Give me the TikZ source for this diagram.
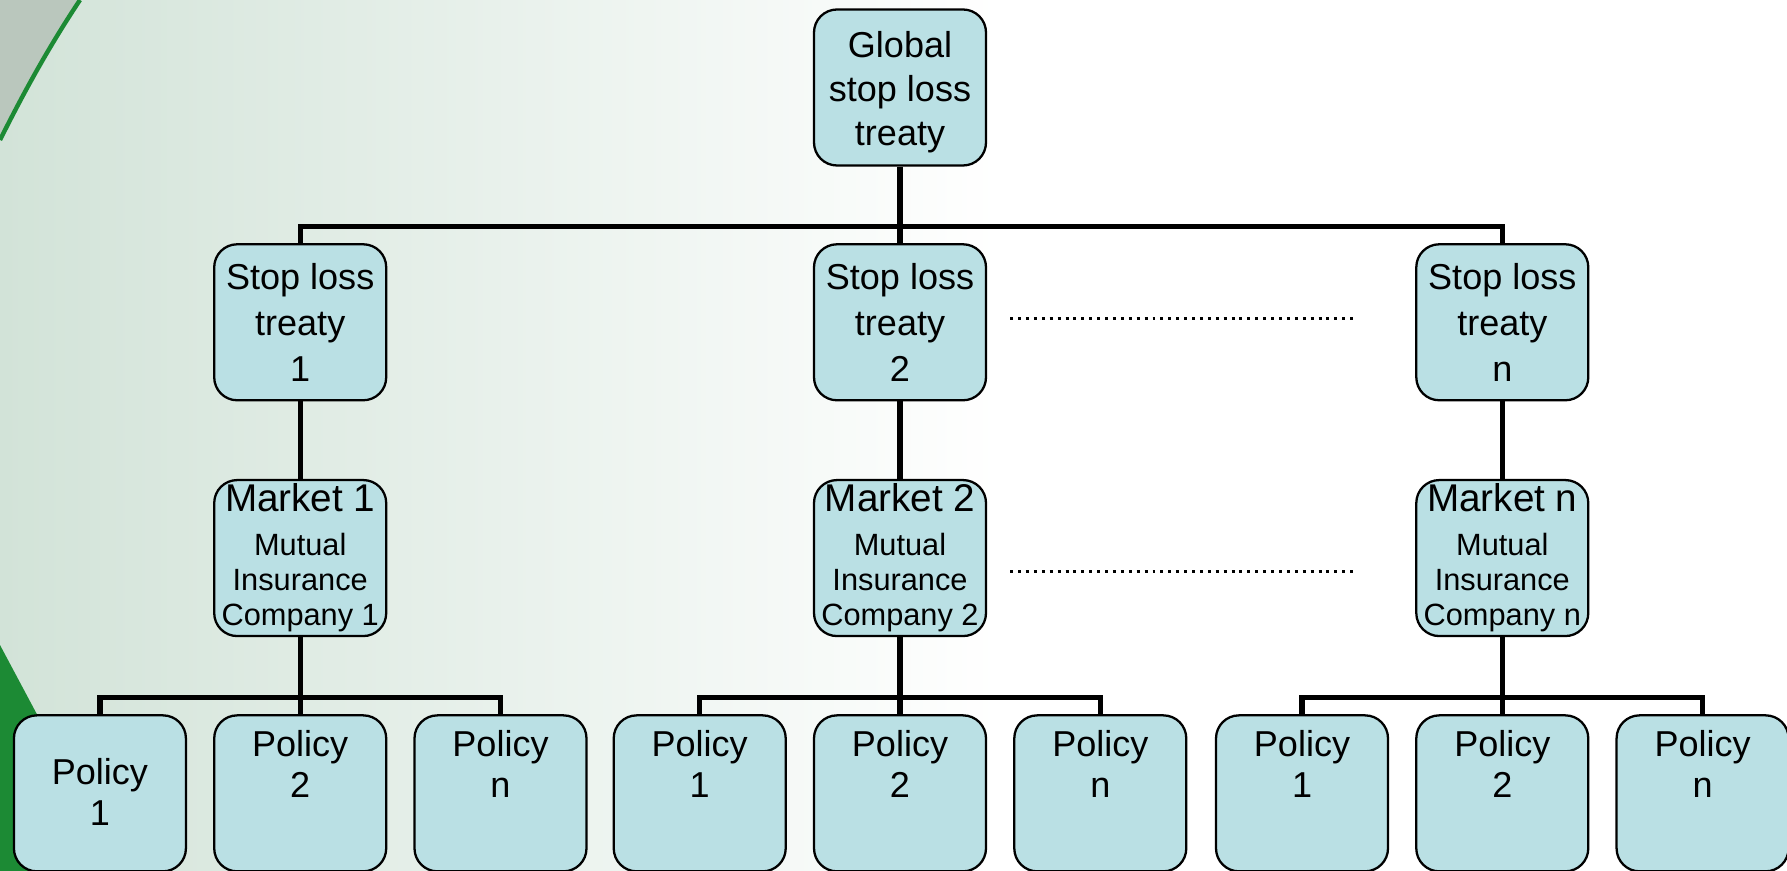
\documentclass[tikz,border=0pt]{standalone}
\usepackage{fontspec}
\setmainfont{Liberation Sans}
\usetikzlibrary{positioning}

\definecolor{boxfill}{RGB}{186,224,228}
\definecolor{bgtint}{RGB}{210,227,216}
\definecolor{swoosh}{RGB}{28,138,52}

\begin{document}
\begin{tikzpicture}[
  box/.style={draw=black,line width=1.3pt,fill=boxfill,rounded corners=0.46cm,
    minimum width=3.44cm,minimum height=3.12cm,inner sep=0pt,align=center,
    font=\fontsize{20.5}{26}\selectfont},
  mkt/.style={box,font=\fontsize{17.5}{20}\selectfont},
  poltext/.style={anchor=north,yshift=-0.32cm,inner sep=0pt,align=center,
    font=\fontsize{20.5}{23.5}\selectfont},
  poltop/.style={label={[poltext]north:{Policy\\1}}},
  polmid/.style={label={[poltext,anchor=center,yshift=-1.23cm]north:{Policy\\1}}},
  link/.style={line width=3pt},
  dots/.style={line width=1.7pt,dash pattern=on 1.7pt off 2.8pt}
]
\useasboundingbox (0,0) rectangle (35.74,-17.42);

% background
\shade[left color=bgtint,right color=white] (0,0) rectangle (20,-17.42);
\fill[swoosh!25!gray!45] (0,0) -- (1.6,0) .. controls (1.0,-0.9) and (0.5,-1.8) .. (0,-2.8) -- cycle;
\draw[swoosh,line width=2.5pt] (1.6,0) .. controls (1.0,-0.9) and (0.5,-1.8) .. (0,-2.8);
\fill[swoosh] (0,-12.9) -- (0.8,-14.4) -- (0.8,-17.42) -- (0,-17.42) -- cycle;

\node (global) [box,font=\fontsize{20.5}{25}\selectfont] at (18,-1.75)
  {\raisebox{-0.11cm}[\height][\depth]{\begin{tabular}{@{}c@{}}Global\\stop loss\\treaty\end{tabular}}};

\node (treaty2) [box,below=1.53cm of global] {Stop loss\\treaty\\2};
\node (treaty1) [box,left=8.51cm of treaty2] {Stop loss\\treaty\\1};
\node (treaty3) [box,right=8.56cm of treaty2] {Stop loss\\treaty\\n};

\coordinate[above=0.34cm of treaty2.north] (topbus);
\draw[link] (global.south) -- (treaty2.north);
\draw[link] (treaty1.north) |- (topbus) -| (treaty3.north);

\foreach \i/\k/\first in {1/1/polmid,2/2/poltop,3/n/poltop} {
  \node (market\i) [mkt,below=1.55cm of treaty\i]
    {{\fontsize{22}{25}\selectfont Market \k}\\[5pt]Mutual\\Insurance\\Company \k};
  \node (pol\i b) [box,below=1.54cm of market\i,label={[poltext]north:{Policy\\2}}] {};
  \node (pol\i a) [box,left=0.52cm of pol\i b,\first] {};
  \node (pol\i c) [box,right=0.52cm of pol\i b,label={[poltext]north:{Policy\\n}}] {};

  \coordinate[above=0.34cm of pol\i b.north] (bus\i);
  \draw[link] (treaty\i.south) -- (market\i.north);
  \draw[link] (market\i.south) -- (pol\i b.north);
  \draw[link] (pol\i a.north) |- (bus\i) -| (pol\i c.north);
}

% gaps between markets
\coordinate (dotsA) at ([xshift=0.46cm,yshift=0.08cm]treaty2.east);
\coordinate (dotsB) at ([xshift=-1.24cm,yshift=0.08cm]treaty3.west);
\coordinate (dotsC) at ([xshift=0.46cm,yshift=-0.26cm]market2.east);
\coordinate (dotsD) at ([xshift=-1.24cm,yshift=-0.26cm]market3.west);
\draw[dots] (dotsA) -- (dotsB);
\draw[dots] (dotsC) -- (dotsD);
\end{tikzpicture}
\end{document}
